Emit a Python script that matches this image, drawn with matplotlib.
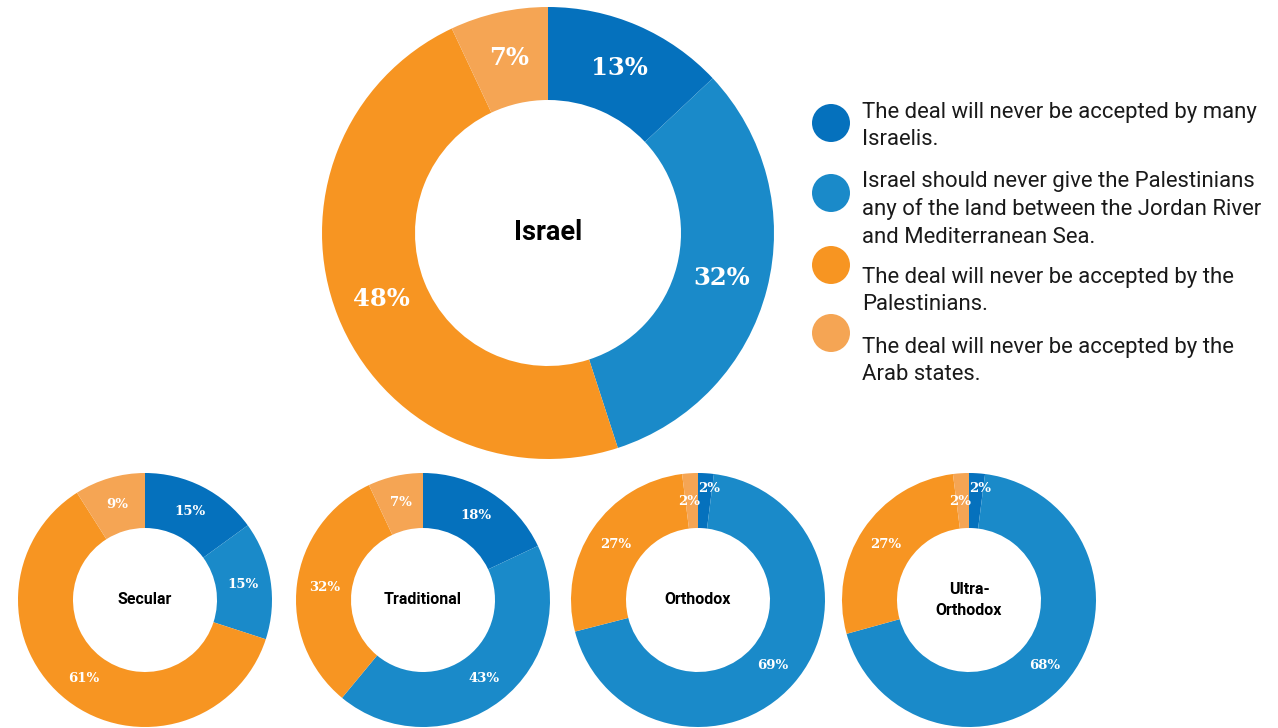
import numpy as np
import matplotlib.pyplot as plt

# Reasons given for opposing the deal, share of respondents (%)
reasons = [
    "The deal will never be accepted by many\nIsraelis.",
    "Israel should never give the Palestinians\nany of the land between the Jordan River\nand Mediterranean Sea.",
    "The deal will never be accepted by the\nPalestinians.",
    "The deal will never be accepted by the\nArab states.",
]
colors = ["#0571bd", "#1a8ac9", "#f79522", "#f5a554"]

israel = [13, 32, 48, 7]
groups = ["Secular", "Traditional", "Orthodox", "Ultra-\nOrthodox"]
secular = [15, 15, 61, 9]
traditional = [18, 43, 32, 7]
orthodox = [2, 69, 27, 2]
ultra_orthodox = [2, 68, 27, 2]

W, H = 1278, 728
fig = plt.figure(figsize=(W / 100, H / 100), dpi=100)
ax = fig.add_axes([0, 0, 1, 1])

pct_font = dict(family="DejaVu Serif", fontweight="bold", color="white")
name_font = dict(family="Roboto", fontweight="bold", color="black")


def donut(vals, cx, cy, r_out, r_in, title, title_size, pct_size, nudge=None):
    ax.pie(vals, colors=colors, center=(cx, cy), radius=r_out, startangle=90,
           counterclock=False,
           wedgeprops=dict(width=r_out - r_in, linewidth=0))
    total = float(sum(vals))
    start = 0.0
    r_mid = (r_out + r_in) / 2
    for i, v in enumerate(vals):
        mid = np.deg2rad((start + v / 2) / total * 360)
        start += v
        r, dx = r_mid, 0
        if nudge and i in nudge:
            r += nudge[i][0]
            dx = nudge[i][1]
        x = cx + r * np.sin(mid) + dx
        y = cy + r * np.cos(mid)
        ax.text(x, y, f"{v}%", ha="center", va="center", fontsize=pct_size, **pct_font)
    ax.text(cx, cy, title, ha="center", va="center", fontsize=title_size,
            linespacing=1.5, **name_font)


# main donut (y measured from the bottom of the figure)
donut(israel, 548, H - 233, 226, 133, "Israel", 19.5, 17.5)

small_cx = [145, 423, 698, 969]
small_vals = [secular, traditional, orthodox, ultra_orthodox]
for cx, vals, name in zip(small_cx, small_vals, groups):
    # stagger the labels of the two thin slices at the top
    tweak = {0: (12, 4), 3: (-1, -3)} if vals[0] < 5 else None
    donut(vals, cx, H - 600, 127, 72, name, 11.5, 9.5, nudge=tweak)

# legend
circle_y = [123, 193, 265, 333]
text_y = [102, 171, 267, 337]
for cy, ty, c, lab in zip(circle_y, text_y, colors, reasons):
    ax.add_patch(plt.Circle((831, H - cy), 19, color=c, lw=0))
    ax.text(862, H - ty, lab, ha="left", va="top", fontsize=15.9,
            family="Roboto", color="#1a1a1a", linespacing=1.38)

ax.set_xlim(0, W)
ax.set_ylim(0, H)
ax.set_aspect("equal")
ax.axis("off")

fig.savefig("out.png", dpi=100)
